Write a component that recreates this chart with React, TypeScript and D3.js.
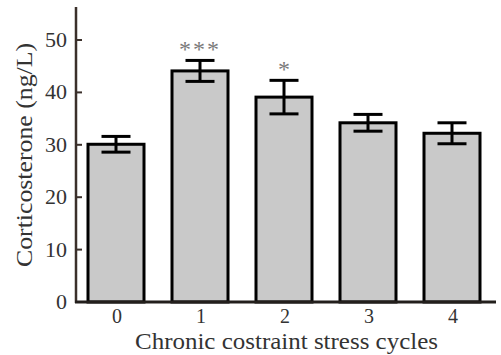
import React from "react";
import * as d3 from "d3";

const categories = ["0", "1", "2", "3", "4"];
const means = [30.1, 44.1, 39.1, 34.2, 32.2];
const errors = [1.5, 2.0, 3.2, 1.6, 2.0];
const significance = ["", "***", "*", "", ""];
const yTicks = [0, 10, 20, 30, 40, 50];
const xTitle = "Chronic costraint stress cycles";
const yTitle = "Corticosterone (ng/L)";

const W = 501;
const H = 355;
const FONT = '"Liberation Serif", Tinos, "Times New Roman", Times, serif';

export default function App() {
  const x = d3
    .scaleBand<string>()
    .domain(categories)
    .range([74, 494])
    .paddingInner(1 / 3)
    .paddingOuter(1 / 6);
  const y = d3.scaleLinear().domain([0, 50]).range([302, 40]);
  const axisX = 76;
  const capHalf = 14.5;

  return (
    <svg
      width={W}
      height={H}
      style={{ position: "absolute", left: 0, top: 0, background: "#fff", fontFamily: FONT }}
    >
      {/* bars */}
      {categories.map((c, i) => {
        const x0 = x(c)!;
        const cx = x0 + x.bandwidth() / 2;
        const top = y(means[i]);
        const hi = y(means[i] + errors[i]);
        const lo = y(means[i] - errors[i]);
        return (
          <g key={c}>
            <rect
              x={x0}
              y={top}
              width={x.bandwidth()}
              height={y(0) - top}
              fill="#c9c9c9"
              stroke="#000"
              strokeWidth={3}
            />
            <line x1={cx} x2={cx} y1={hi} y2={lo} stroke="#000" strokeWidth={3} />
            <line x1={cx - capHalf} x2={cx + capHalf} y1={hi} y2={hi} stroke="#000" strokeWidth={3} />
            <line x1={cx - capHalf} x2={cx + capHalf} y1={lo} y2={lo} stroke="#000" strokeWidth={3} />
            {significance[i] && (
              <text
                x={cx}
                y={hi - 3}
                textAnchor="middle"
                fontSize={24}
                fill="#7a7a7a"
                letterSpacing={significance[i].length > 1 ? 2 : 0}
              >
                {significance[i]}
              </text>
            )}
            <text x={cx + 1} y={323} textAnchor="middle" fontSize={20} fill="#333">
              {c}
            </text>
          </g>
        );
      })}

      {/* y axis */}
      <line x1={axisX} x2={axisX} y1={7} y2={303} stroke="#3b302b" strokeWidth={2.5} />
      {yTicks.map((t) => (
        <g key={t}>
          <line x1={axisX} x2={axisX + 6} y1={y(t)} y2={y(t)} stroke="#3b302b" strokeWidth={2} />
          <text x={67} y={y(t)} dy="0.32em" textAnchor="end" fontSize={22} fill="#333">
            {t}
          </text>
        </g>
      ))}

      {/* baseline */}
      <line x1={axisX - 1} x2={496} y1={y(0)} y2={y(0)} stroke="#231f1c" strokeWidth={3} />

      {/* titles */}
      <text
        x={286.5}
        y={349}
        textAnchor="middle"
        fontSize={24}
        fill="#333"
        textLength={303}
        lengthAdjust="spacingAndGlyphs"
      >
        {xTitle}
      </text>
      <text
        transform={`translate(32,155) rotate(-90)`}
        textAnchor="middle"
        fontSize={24}
        fill="#333"
        textLength={224}
        lengthAdjust="spacingAndGlyphs"
      >
        {yTitle}
      </text>
    </svg>
  );
}
